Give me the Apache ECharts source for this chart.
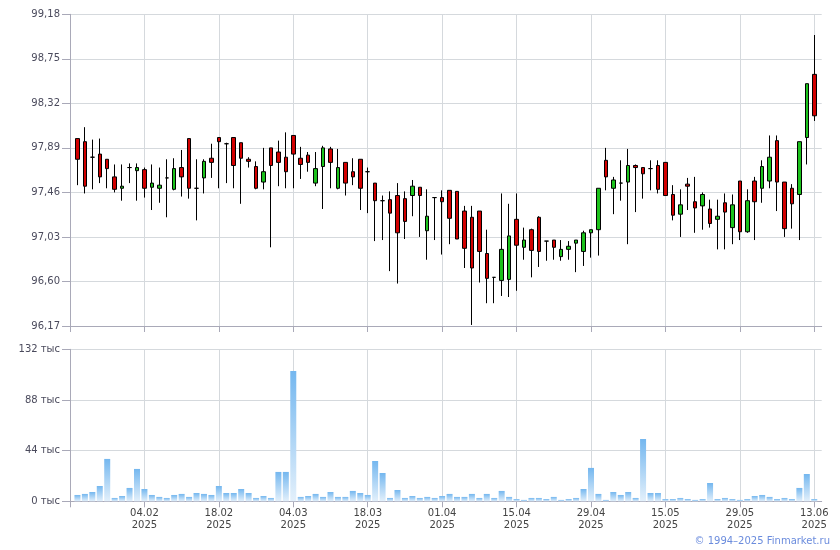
<!DOCTYPE html>
<html><head><meta charset="utf-8">
<script src="https://cdn.jsdelivr.net/npm/echarts@6/dist/echarts.min.js"></script>
<style>html,body{margin:0;padding:0;background:#fff}#c{width:840px;height:550px}</style>
</head><body><div id="c"></div>
<script>
const dates = ['22.01','23.01','24.01','27.01','28.01','29.01','30.01','31.01',
 '03.02','04.02','05.02','06.02','07.02','10.02','11.02','12.02','13.02','14.02','17.02','18.02','19.02','20.02','21.02','24.02','25.02','26.02','27.02','28.02',
 '03.03','04.03','05.03','06.03','07.03','10.03','11.03','12.03','13.03','14.03','17.03','18.03','19.03','20.03','21.03','24.03','25.03','26.03','27.03','28.03','31.03',
 '01.04','02.04','03.04','04.04','07.04','08.04','09.04','10.04','11.04','14.04','15.04','16.04','17.04','18.04','21.04','22.04','23.04','24.04','25.04','28.04','29.04','30.04',
 '02.05','05.05','06.05','07.05','08.05','12.05','13.05','14.05','15.05','16.05','19.05','20.05','21.05','22.05','23.05','26.05','27.05','28.05','29.05','30.05',
 '02.06','03.06','04.06','05.06','06.06','09.06','10.06','11.06','13.06'];
const opens = [97.98,97.95,97.80,97.83,97.78,97.61,97.50,97.70,97.67,97.68,
 97.51,97.50,97.60,97.49,97.70,97.98,97.50,97.60,97.79,97.99,
 97.93,97.99,97.94,97.78,97.71,97.56,97.89,97.85,97.80,98.01,
 97.79,97.82,97.55,97.71,97.88,97.50,97.75,97.66,97.78,97.66,
 97.55,97.38,97.39,97.43,97.40,97.43,97.51,97.09,97.41,97.41,
 97.48,97.47,97.28,97.22,97.28,96.87,96.64,96.61,96.62,97.20,
 96.93,97.10,97.22,96.99,97.00,96.84,96.91,96.97,96.89,97.07,
 97.10,97.77,97.50,97.55,97.56,97.72,97.70,97.69,97.72,97.75,
 97.44,97.25,97.54,97.37,97.33,97.30,97.20,97.36,97.12,97.57,
 97.08,97.57,97.50,97.57,97.96,97.56,97.50,97.44,97.99,98.60];
const closes = [97.78,97.52,97.80,97.61,97.69,97.49,97.52,97.70,97.70,97.50,
 97.55,97.53,97.60,97.69,97.61,97.50,97.50,97.76,97.75,97.95,
 97.93,97.72,97.79,97.76,97.50,97.66,97.72,97.75,97.66,97.83,
 97.73,97.75,97.69,97.89,97.75,97.70,97.55,97.61,97.50,97.66,
 97.38,97.38,97.26,97.07,97.18,97.52,97.43,97.23,97.41,97.37,
 97.21,97.01,96.92,96.73,96.89,96.63,96.64,96.91,97.04,96.95,
 97.00,96.90,96.89,96.99,96.93,96.91,96.94,97.00,97.07,97.10,
 97.50,97.61,97.58,97.55,97.72,97.70,97.64,97.69,97.49,97.43,
 97.24,97.34,97.52,97.31,97.44,97.16,97.23,97.27,97.34,97.08,
 97.38,97.37,97.71,97.80,97.56,97.11,97.35,97.95,98.51,98.20];
const lows = [97.53,97.45,97.49,97.55,97.50,97.46,97.38,97.55,97.38,97.41,
 97.29,97.36,97.22,97.48,97.42,97.40,97.19,97.45,97.60,97.50,
 97.55,97.50,97.35,97.70,97.49,97.49,96.93,97.52,97.50,97.50,
 97.59,97.66,97.52,97.30,97.50,97.49,97.43,97.53,97.29,97.26,
 96.99,97.00,96.70,96.58,97.01,97.23,97.03,96.81,97.00,96.86,
 96.96,97.01,96.73,96.18,96.59,96.39,96.39,96.46,96.45,96.51,
 96.81,96.64,96.74,96.80,96.81,96.80,96.81,96.69,96.75,96.83,
 96.85,97.48,97.25,97.38,96.96,97.27,97.40,97.48,97.45,97.43,
 97.19,97.03,97.29,97.07,97.10,97.12,96.91,96.91,96.96,97.00,
 97.07,97.00,97.36,97.50,97.28,97.03,97.11,97.00,97.73,98.15];
const highs = [97.98,98.09,97.97,97.98,97.78,97.73,97.73,97.74,97.74,97.70,
 97.73,97.70,97.78,97.79,97.87,97.98,97.78,97.78,97.93,97.99,
 97.94,97.99,97.94,97.80,97.76,97.89,97.89,97.96,98.04,98.01,
 97.90,97.85,97.85,97.91,97.90,97.88,97.75,97.79,97.78,97.70,
 97.55,97.43,97.47,97.55,97.47,97.58,97.51,97.49,97.41,97.48,
 97.48,97.47,97.33,97.33,97.28,97.10,96.64,97.45,97.35,97.45,
 97.12,97.11,97.23,96.99,97.00,97.00,96.99,97.00,97.09,97.10,
 97.50,97.89,97.61,97.77,97.88,97.73,97.70,97.77,97.77,97.75,
 97.53,97.49,97.60,97.61,97.46,97.39,97.39,97.45,97.44,97.57,
 97.49,97.61,97.77,98.01,98.01,97.56,97.54,97.95,98.51,98.98];
const volumes = [5.5,6.4,8.1,13.3,36.8,2.9,4.6,11.6,28.1,10.7,
 5.5,3.8,2.9,5.5,6.4,3.8,7.2,6.4,5.5,13.3,
 7.2,7.2,10.7,7.2,2.9,4.6,2.9,25.5,25.5,113.2,
 3.8,4.6,6.4,3.8,8.1,3.8,3.8,9.0,7.2,5.5,
 35.0,24.6,2.9,9.8,2.9,4.6,2.9,3.8,2.9,4.6,
 6.4,3.8,3.8,6.4,2.9,6.4,2.9,9.0,3.8,2.0,
 1.2,2.9,2.9,2.0,3.8,1.2,2.0,2.9,10.7,29.0,
 6.4,1.2,8.1,5.5,8.1,2.9,54.1,7.2,7.2,2.0,
 2.0,2.9,2.0,1.2,2.0,15.9,2.0,2.9,2.0,1.2,
 2.0,4.6,5.5,3.8,2.0,2.9,2.0,11.6,23.7,2.0];
const tickDates = ['04.02','18.02','04.03','18.03','01.04','15.04','29.04','15.05','29.05','13.06'];
const tickYear = '2025';
const priceTickLabels = ['96,17','96,60','97,03','97,46','97,89','98,32','98,75','99,18'];
const volumeTickLabels = ['0 тыс','44 тыс','88 тыс','132 тыс'];

const cats = [''].concat(dates, ['']);
const candleData = dates.map((d, i) => [d, opens[i], closes[i], lows[i], highs[i]]);
const volData = dates.map((d, i) => [d, volumes[i]]);

const AX = '#a9a9b8', GR = '#d5d9dd', FONT = 'DejaVu Sans';
const isTick = (idx, v) => idx === 0 || tickDates.indexOf(v) >= 0;
const isGrid = (idx, v) => tickDates.indexOf(v) >= 0;

function xAx(grid, labels) {
  return {
    type: 'category', gridIndex: grid, data: cats, boundaryGap: false,
    axisLine: {show: true, lineStyle: {color: AX, width: 1}},
    axisTick: {show: true, interval: isTick, length: 6, lineStyle: {color: AX}},
    splitLine: {show: true, interval: isGrid, lineStyle: {color: GR, width: 1}},
    axisLabel: labels ? {show: true, interval: isGrid, formatter: v => v + '\n' + tickYear,
      color: '#444', fontSize: 10, fontFamily: FONT, lineHeight: 12, margin: 6} : {show: false}
  };
}

const chart = echarts.init(document.getElementById('c'), null, {renderer: 'canvas'});
chart.setOption({
  animation: false,
  backgroundColor: '#fff',
  grid: [
    {left: 70, top: 14.3, width: 751.7, height: 311.7},
    {left: 70, top: 349.3, width: 751.7, height: 152}
  ],
  xAxis: [xAx(0, false), xAx(1, true)],
  yAxis: [
    {type: 'value', gridIndex: 0, min: 96.17, max: 99.18, scale: true,
     axisLine: {show: true, lineStyle: {color: AX}}, axisTick: {show: false},
     axisLabel: {show: false}, splitLine: {show: false}},
    {type: 'value', gridIndex: 0, min: 0, max: priceTickLabels.length - 1, interval: 1, position: 'left',
     axisLine: {show: false}, axisTick: {show: true, length: 8, lineStyle: {color: AX}},
     axisLabel: {formatter: v => priceTickLabels[v], color: '#4a4a5c', fontSize: 10, fontFamily: FONT, margin: 10},
     splitLine: {show: true, lineStyle: {color: GR}}},
    {type: 'value', gridIndex: 1, min: 0, max: 132, interval: 44,
     axisLine: {show: true, lineStyle: {color: AX}}, axisTick: {show: true, length: 8, lineStyle: {color: AX}},
     axisLabel: {formatter: v => volumeTickLabels[Math.round(v / 44)], color: '#4a4a5c', fontSize: 10, fontFamily: FONT, margin: 10},
     splitLine: {show: true, lineStyle: {color: GR}}}
  ],
  series: [
    {type: 'candlestick', xAxisIndex: 0, yAxisIndex: 0, data: candleData,
     encode: {x: 0, y: [1, 2, 3, 4]}, barWidth: 4,
     itemStyle: {color: '#1cc21c', color0: '#d20000', borderColor: '#000', borderColor0: '#000', borderColorDoji: '#000', borderWidth: 1}},
    {type: 'bar', xAxisIndex: 1, yAxisIndex: 2, data: volData, encode: {x: 0, y: 1}, barWidth: 6,
     itemStyle: {color: new echarts.graphic.LinearGradient(0, 0, 0, 1, [{offset: 0, color: '#74b7ef'}, {offset: 1, color: '#e3f0fb'}])}}
  ],
  graphic: [
    {type: 'text', right: 10, top: 536, style: {text: '© 1994–2025 Finmarket.ru', fill: '#6b8cdd', font: '10px "DejaVu Sans"'}}
  ]
});
</script></body></html>
